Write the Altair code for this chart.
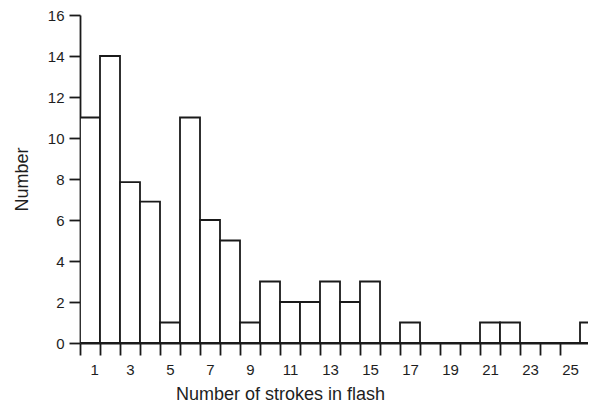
import altair as alt
import pandas as pd

strokes = list(range(1, 27))
counts = [11, 14, 7.85, 6.9, 1, 11, 6, 5, 1, 3, 2, 2, 3, 2, 3, 0, 1, 0, 0, 0, 1, 1, 0, 0, 0, 1]

df = pd.DataFrame({"strokes": strokes, "count": counts})
df["lo"] = df["strokes"] - 0.5
df["hi"] = df["strokes"] + 0.5

edges = [k - 0.5 for k in strokes[:-1]]

FONT = "Liberation Sans"
INK = "#1a1a1a"

x_scale = alt.Scale(domain=[0.5, 25.9], nice=False, zero=False)
y_scale = alt.Scale(domain=[0, 16], nice=False)

bars = alt.Chart(df).mark_rect(
    fill="white", stroke=INK, strokeWidth=1.8, clip=True
).encode(
    x=alt.X("lo:Q", scale=x_scale, axis=alt.Axis(
        values=edges,
        labelExpr="(datum.value + 0.5) % 2 == 1 ? format(datum.value + 0.5, 'd') : ''",
        labelOffset=10,
        tickSize=12, tickWidth=1.8, tickColor=INK,
        domainColor=INK, domainWidth=1.8,
        labelFont=FONT, labelFontSize=15, labelColor="#1e1e1e",
        labelPadding=7, grid=False,
        title="Number of strokes in flash",
        titleFont=FONT, titleFontSize=18, titleFontWeight="normal", titleColor="#1e1e1e",
        titlePadding=8, titleX=200, titleAnchor="middle",
    )),
    x2="hi:Q",
    y=alt.Y("count:Q", scale=y_scale, axis=alt.Axis(
        values=list(range(0, 17, 2)),
        tickSize=11, tickWidth=1.8, tickColor=INK,
        domainColor=INK, domainWidth=1.8,
        labelFont=FONT, labelFontSize=15, labelColor="#1e1e1e",
        labelPadding=5, grid=False,
        title="Number",
        titleFont=FONT, titleFontSize=18, titleFontWeight="normal", titleColor="#1e1e1e",
        titlePadding=16,
    )),
    y2=alt.datum(0),
)

chart = bars.properties(
    width=508, height=328,
    background="white",
    autosize=alt.AutoSizeParams(type="none"),
    padding={"left": 72, "top": 7, "right": 0, "bottom": 61},
).configure_view(stroke=None)

chart.save("out.html", embed_options={"renderer": "svg", "actions": False})
